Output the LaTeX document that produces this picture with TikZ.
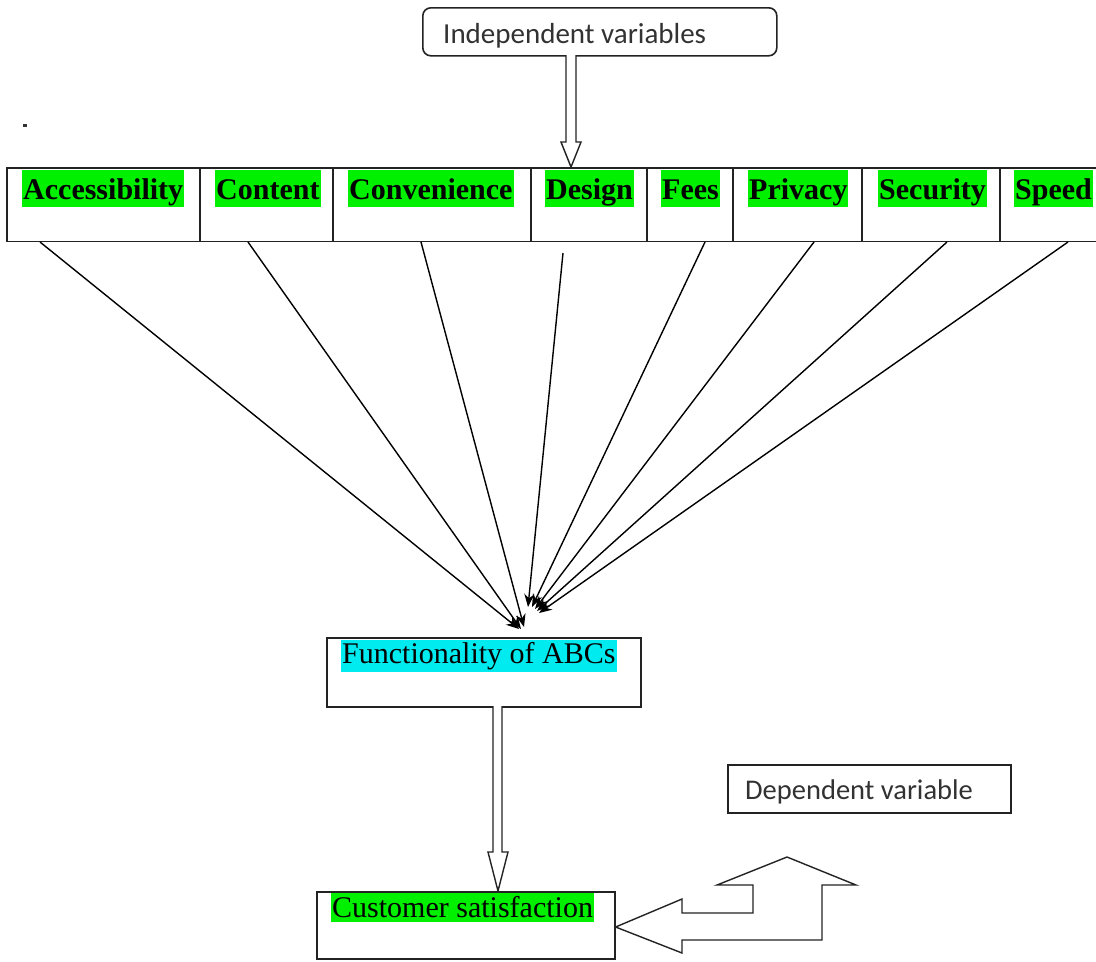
\documentclass[tikz,border=0pt]{standalone}
\usepackage{fontspec}
\setmainfont{Liberation Serif}
\newfontfamily\calib{Carlito}
\usetikzlibrary{arrows.meta}
\definecolor{hlgreen}{RGB}{0,240,0}
\definecolor{hlcyan}{RGB}{0,235,240}
\definecolor{edge}{RGB}{35,35,35}
\definecolor{graytext}{RGB}{50,50,50}
\begin{document}
\begin{tikzpicture}[x=1pt,y=-1pt,
  frame/.style={draw=edge,line width=1.6pt},
  box/.style={frame,fill=white,inner sep=0pt,anchor=north west},
  cell/.style={draw=none,minimum height=73pt,inner sep=0pt,anchor=north west},
  varlabel/.style={anchor=north west,fill=hlgreen,inner xsep=1pt,inner ysep=4pt,text height=25pt,text depth=4pt,font=\fontsize{30}{32}\selectfont\bfseries},
  hltext/.style={anchor=base west,inner xsep=1pt,inner ysep=0pt,font=\fontsize{30}{32}\selectfont},
  caltext/.style={anchor=base west,inner sep=0pt,text=graytext},
  link/.style={draw=black,line width=1.4pt,-{Stealth[length=13pt,width=10pt]}},
  hollow/.style={draw=edge,line width=1.4pt,fill=white,line join=miter}
]
\useasboundingbox[fill=white] (0,0) rectangle (1096,962);

% stray dot
\fill[graytext] (23,124) rectangle (27,126.5);

% Independent variables box
\node[box,rounded corners=8pt,minimum width=354pt,minimum height=48pt] (indep) at (422,7) {};
\node[caltext,font=\calib\fontsize{29}{31}\selectfont] (indepT) at (443,43) {Independent variables};

% hollow arrow down to the row
\draw[hollow] (566,55) -- (566,142) -- (561,142) -- (571,167) -- (581,142) -- (576,142) -- (576,55);

% row of cells
\node[cell,minimum width=193pt] (acc) at (7,168) {};
\node[cell,minimum width=133pt] (con) at (200,168) {};
\node[cell,minimum width=198pt] (cnv) at (333,168) {};
\node[cell,minimum width=116pt] (des) at (531,168) {};
\node[cell,minimum width=86pt] (fee) at (647,168) {};
\node[cell,minimum width=129pt] (pri) at (733,168) {};
\node[cell,minimum width=138pt] (sec) at (862,168) {};
\node[cell,minimum width=96pt] (spd) at (1000,168) {};
\draw[frame] (spd.north east) -- (acc.north west) -- (acc.south west) -- (spd.south east);
\foreach \c in {con,cnv,des,fee,pri,sec,spd}
  \draw[frame] (\c.north west) -- (\c.south west);

\node[varlabel] (accL) at (22,170) {Accessibility};
\node[varlabel] (conL) at (215,170) {Content};
\node[varlabel] (cnvL) at (348,170) {Convenience};
\node[varlabel] (desL) at (545,170) {Design};
\node[varlabel] (feeL) at (661,170) {Fees};
\node[varlabel] (priL) at (748,170) {Privacy};
\node[varlabel] (secL) at (878,170) {Security};
\node[varlabel] (spdL) at (1014,170) {Speed};

% connector start and end points
\coordinate (s1) at (40,242);
\coordinate (s2) at (248,242);
\coordinate (s3) at (421,242);
\coordinate (s4) at (563,253);
\coordinate (s5) at (705,242);
\coordinate (s6) at (814,242);
\coordinate (s7) at (947,242);
\coordinate (s8) at (1068,242);
\coordinate (e1) at (519,629);
\coordinate (e2) at (521,629);
\coordinate (e3) at (524,627);
\coordinate (e4) at (528,607);
\coordinate (e5) at (532,607);
\coordinate (e6) at (535,609);
\coordinate (e7) at (537,611);
\coordinate (e8) at (539,613);
\foreach \i in {1,...,8}
  \draw[link] (s\i) -- (e\i);

% Functionality box
\node[box,minimum width=314pt,minimum height=69pt] (func) at (326,637) {};
\node[hltext,fill=hlcyan,text height=23pt,text depth=9pt] (funcT) at (341,663) {Functionality of ABCs};

% hollow arrow down to customer satisfaction
\draw[hollow] (493,706) -- (493,852) -- (488,852) -- (498,891) -- (508,852) -- (502,852) -- (502,706);

% Customer satisfaction box
\node[box,minimum width=298pt,minimum height=67pt] (cust) at (316,891) {};
\node[hltext,fill=hlgreen,text height=24pt,text depth=5pt] (custT) at (331,917) {Customer satisfaction};

% Dependent variable box
\node[box,minimum width=283pt,minimum height=48pt] (dep) at (727,764) {};
\node[caltext,font=\calib\fontsize{28.5}{30}\selectfont] (depT) at (745,799) {Dependent variable};

% bent hollow arrow
\draw[hollow] (cust.east |- 0,927) -- (682,899) -- (682,913) -- (753,913) -- (753,885) -- (717,885)
  -- (787,857) -- (856,885) -- (822,885) -- (822,940) -- (682,940) -- (682,953) -- cycle;
\end{tikzpicture}
\end{document}
